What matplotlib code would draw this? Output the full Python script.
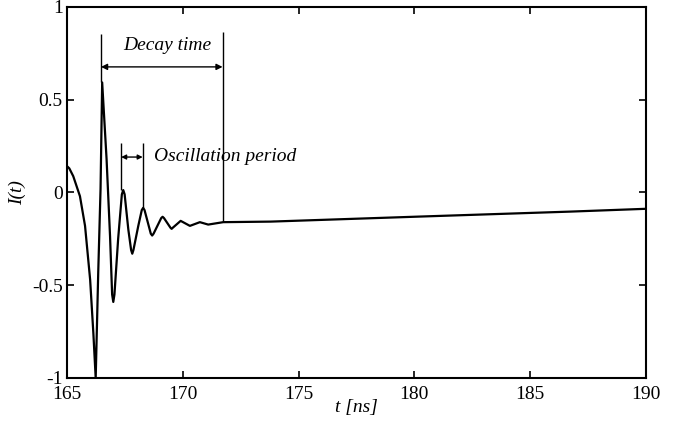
import matplotlib
matplotlib.use('Agg')
import matplotlib.pyplot as plt

plt.rcParams['font.family'] = 'Liberation Serif'

# time axis (ns) and current I(t)
t_ns = [165.0, 165.1, 165.27, 165.56, 165.78, 166.0, 166.14, 166.24, 166.35, 166.45,
        166.52, 166.71, 166.86, 166.95, 167.0, 167.05, 167.21, 167.37, 167.43, 167.49,
        167.65, 167.77, 167.82, 167.87, 168.08, 168.23, 168.29, 168.35, 168.62, 168.68,
        168.74, 169.07, 169.13, 169.19, 169.47, 169.52, 169.57, 169.91, 170.31, 170.74,
        171.1, 171.75, 173.8, 180.2, 186.76, 190.0]
current = [0.142, 0.13, 0.088, -0.02, -0.18, -0.47, -0.76, -1.0, -0.43, 0.02,
           0.593, 0.18, -0.236, -0.55, -0.59, -0.55, -0.25, -0.01, 0.013, -0.01,
           -0.2, -0.31, -0.33, -0.31, -0.18, -0.095, -0.083, -0.095, -0.222, -0.232,
           -0.222, -0.138, -0.131, -0.138, -0.19, -0.196, -0.19, -0.153, -0.18, -0.16,
           -0.173, -0.16, -0.157, -0.13, -0.103, -0.088]

x_ticks = [165, 170, 175, 180, 185, 190]
y_ticks = [-1, -0.5, 0, 0.5, 1]
y_tick_labels = ['-1', '-0.5', '0', '0.5', '1']

# annotation markers
decay_start, decay_end = 166.47, 171.72
decay_bottoms = [0.593, -0.16]
decay_tops = [0.854, 0.867]
decay_arrow_y = 0.677
osc_start, osc_end = 167.34, 168.27
osc_bottoms = [0.013, -0.083]
osc_top = 0.265
osc_arrow_y = 0.191

fig = plt.figure(figsize=(6.87, 4.25), dpi=100)
ax = fig.add_axes([0.0975, 0.1106, 0.8425, 0.873])

ax.plot(t_ns, current, color='black', lw=1.6, solid_joinstyle='round')

# decay time markers
ax.vlines([decay_start, decay_end], decay_bottoms, decay_tops, color='black', lw=1.0)
ax.annotate('', xy=(decay_start, decay_arrow_y), xytext=(decay_end, decay_arrow_y),
            arrowprops=dict(arrowstyle='<|-|>', color='black', lw=1.0,
                            mutation_scale=9, shrinkA=0, shrinkB=0))
ax.text(169.32, 0.795, 'Decay time', fontsize=14, style='italic',
        ha='center', va='center')

# oscillation period markers
ax.vlines([osc_start, osc_end], osc_bottoms, osc_top, color='black', lw=1.0)
ax.annotate('', xy=(osc_start, osc_arrow_y), xytext=(osc_end, osc_arrow_y),
            arrowprops=dict(arrowstyle='<|-|>', color='black', lw=1.0,
                            mutation_scale=7, shrinkA=0, shrinkB=0))
ax.text(168.76, 0.196, 'Oscillation period', fontsize=14, style='italic',
        ha='left', va='center')

ax.set_xlim(165, 190)
ax.set_ylim(-1, 1)
ax.set_xticks(x_ticks)
ax.set_yticks(y_ticks)
ax.set_yticklabels(y_tick_labels)
ax.tick_params(direction='in', top=True, right=True, length=5, width=1.2,
               labelsize=14)
ax.tick_params(axis='x', pad=6)
ax.tick_params(axis='y', pad=3)
for s in ax.spines.values():
    s.set_linewidth(1.5)

ax.set_xlabel('t [ns]', fontsize=14, style='italic', labelpad=-3)
ax.set_ylabel('I(t)', fontsize=14, style='italic', labelpad=4)

fig.savefig('out.png', dpi=100)
